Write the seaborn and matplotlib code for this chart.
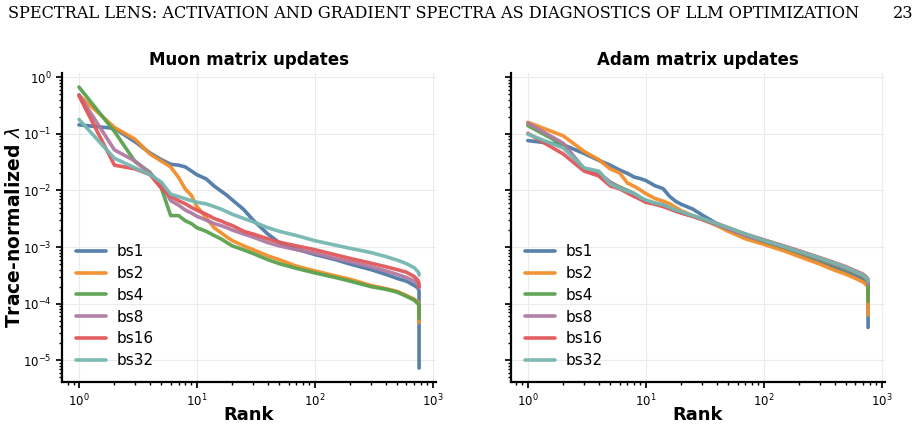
import pandas as pd
import seaborn as sns
import matplotlib.pyplot as plt

ranks = [1, 2, 3, 4, 5, 6, 7, 8, 9, 10, 12, 14, 16, 18, 20, 25, 30, 40, 50, 70,
         100, 150, 200, 300, 400, 500, 600, 700, 750, 767, 768]

labels = ["bs1", "bs2", "bs4", "bs8", "bs16", "bs32"]
colors = ["#4e79a7", "#f28e2b", "#59a14f", "#b07aa1", "#e15759", "#76b7b2"]

# Muon matrix updates
muon_bs1 = [0.144, 0.125, 0.072, 0.046, 0.035, 0.029, 0.028, 0.026, 0.022, 0.019, 0.016, 0.012, 0.0098, 0.0082,
            0.0068, 0.0046, 0.003, 0.0017, 0.0012, 0.00092, 0.00074, 0.0006, 0.0005, 0.0004, 0.00033, 0.00028,
            0.00025, 0.00021, 0.00019, 0.000168, 7.3e-6]
muon_bs2 = [0.48, 0.13, 0.08, 0.044, 0.033, 0.026, 0.017, 0.0105, 0.0082, 0.0052, 0.0033, 0.0022, 0.0018, 0.0015,
            0.0013, 0.00105, 0.0009, 0.0007, 0.0006, 0.00046, 0.00038, 0.00031, 0.00027, 0.00021, 0.000185,
            0.000165, 0.00014, 0.00012, 0.000107, 0.0001, 4.6e-5]
muon_bs4 = [0.67, 0.11, 0.032, 0.021, 0.011, 0.0036, 0.0036, 0.0029, 0.0026, 0.0022, 0.0019, 0.0016, 0.0014, 0.0012,
            0.00105, 0.00089, 0.00077, 0.0006, 0.00051, 0.00042, 0.00035, 0.00029, 0.00025, 0.0002, 0.00018,
            0.00016, 0.000135, 0.000115, 0.0001, 9.5e-5, 5.5e-5]
muon_bs8 = [0.49, 0.052, 0.033, 0.02, 0.013, 0.0066, 0.0055, 0.0045, 0.004, 0.0035, 0.003, 0.0026, 0.0024, 0.0022,
            0.002, 0.0017, 0.0015, 0.0012, 0.00105, 0.0009, 0.00078, 0.00063, 0.00055, 0.00045, 0.00038, 0.00033,
            0.00029, 0.00025, 0.00022, 0.0002, 0.00019]
muon_bs16 = [0.47, 0.028, 0.024, 0.019, 0.011, 0.0078, 0.0066, 0.0058, 0.005, 0.0045, 0.0038, 0.0032, 0.0029, 0.0026,
             0.0024, 0.0019, 0.0017, 0.0014, 0.00122, 0.00105, 0.0009, 0.00073, 0.00063, 0.00052, 0.00045, 0.0004,
             0.00036, 0.0003, 0.00026, 0.00023, 0.0002]
muon_bs32 = [0.18, 0.037, 0.025, 0.019, 0.014, 0.0086, 0.0078, 0.0071, 0.0066, 0.0062, 0.0058, 0.0052, 0.0047, 0.0042,
             0.0038, 0.0032, 0.0028, 0.0022, 0.0019, 0.0016, 0.0013, 0.00108, 0.00095, 0.0008, 0.00068, 0.00059,
             0.00051, 0.00043, 0.00037, 0.00034, 0.00032]

# Adam matrix updates
adam_bs1 = [0.076, 0.064, 0.045, 0.034, 0.028, 0.023, 0.02, 0.0172, 0.0162, 0.015, 0.0121, 0.0108, 0.0078, 0.0064,
            0.0057, 0.0047, 0.0037, 0.0026, 0.0021, 0.0016, 0.00122, 0.00092, 0.00074, 0.00055, 0.00044, 0.00037,
            0.00031, 0.00027, 0.00024, 0.00022, 3.8e-5]
adam_bs2 = [0.16, 0.092, 0.049, 0.035, 0.024, 0.0205, 0.0135, 0.0118, 0.0102, 0.0088, 0.0072, 0.0065, 0.0058, 0.005,
            0.0044, 0.0036, 0.0031, 0.0024, 0.0019, 0.0014, 0.00112, 0.00085, 0.00068, 0.0005, 0.00039, 0.00033,
            0.00028, 0.00024, 0.00021, 0.0002, 6.3e-5]
adam_bs4 = [0.14, 0.064, 0.024, 0.0195, 0.014, 0.0115, 0.01, 0.0088, 0.0075, 0.0066, 0.0059, 0.0055, 0.0048, 0.0043,
            0.0041, 0.0035, 0.0031, 0.0025, 0.0021, 0.0016, 0.00127, 0.00098, 0.0008, 0.0006, 0.00048, 0.0004,
            0.00035, 0.0003, 0.00026, 0.00024, 1.1e-4]
adam_bs8 = [0.155, 0.068, 0.024, 0.0205, 0.014, 0.011, 0.0095, 0.0082, 0.007, 0.0063, 0.0059, 0.0055, 0.0048, 0.0044,
            0.004, 0.0035, 0.0031, 0.0025, 0.0021, 0.0016, 0.0013, 0.001, 0.00082, 0.00062, 0.0005, 0.00042,
            0.00036, 0.00031, 0.00027, 0.00025, 2.2e-4]
adam_bs16 = [0.102, 0.044, 0.022, 0.018, 0.012, 0.0107, 0.009, 0.0078, 0.007, 0.0062, 0.0057, 0.0052, 0.0047, 0.0043,
             0.004, 0.0035, 0.0031, 0.0026, 0.0022, 0.0017, 0.00135, 0.00104, 0.00086, 0.00065, 0.00053, 0.00045,
             0.00038, 0.00033, 0.00029, 0.00027, 2.6e-4]
adam_bs32 = [0.099, 0.056, 0.025, 0.022, 0.013, 0.011, 0.0097, 0.0088, 0.0075, 0.0068, 0.006, 0.0056, 0.005, 0.0045,
             0.0042, 0.0036, 0.0032, 0.0026, 0.0022, 0.0017, 0.00133, 0.00102, 0.00084, 0.00064, 0.00052, 0.00044,
             0.00037, 0.00032, 0.00028, 0.00026, 2.5e-4]

muon = [muon_bs1, muon_bs2, muon_bs4, muon_bs8, muon_bs16, muon_bs32]
adam = [adam_bs1, adam_bs2, adam_bs4, adam_bs8, adam_bs16, adam_bs32]

sns.set_theme(style="whitegrid")
plt.rcParams.update({
    "font.family": ["DejaVu Sans"],
    "text.color": "black",
    "axes.labelcolor": "black",
    "axes.edgecolor": "black",
    "axes.linewidth": 1.6,
    "grid.color": "#ebebeb",
    "grid.linewidth": 0.8,
    "xtick.bottom": True,
    "ytick.left": True,
    "xtick.color": "black",
    "ytick.color": "black",
    "xtick.major.size": 4,
    "ytick.major.size": 4,
    "xtick.minor.size": 2.5,
    "ytick.minor.size": 2.5,
    "xtick.labelsize": 8.5,
    "ytick.labelsize": 8.5,
})

fig = plt.figure(figsize=(9.22, 4.26), dpi=100)
ax1 = fig.add_axes([0.0672, 0.103, 0.4058, 0.7256])
ax2 = fig.add_axes([0.554, 0.103, 0.406, 0.7256], sharey=ax1)

for ax, series, title in [(ax1, muon, "Muon matrix updates"), (ax2, adam, "Adam matrix updates")]:
    for vals, lab, col in zip(series, labels, colors):
        df = pd.DataFrame({"Rank": ranks, "value": vals})
        sns.lineplot(data=df, x="Rank", y="value", ax=ax, color=col, label=lab, lw=2.6, alpha=0.95)
    ax.set_xscale("log")
    ax.set_yscale("log")
    ax.set_title(title, fontsize=12, fontweight="bold", pad=6)
    ax.set_xlabel("Rank", fontsize=13, fontweight="bold", labelpad=-2)
    ax.grid(True, which="major")
    ax.grid(False, which="minor")
    sns.despine(ax=ax)
    ax.legend(loc="lower left", frameon=False, fontsize=11, handlelength=2.0,
              handletextpad=0.7, labelspacing=0.45)

ax1.set_ylabel("Trace-normalized $\\lambda$", fontsize=13.5, fontweight="bold", labelpad=-1)
ax2.set_ylabel("")
ax2.tick_params(labelleft=False)

# page header
fig.text(8 / 922, 1 - 13 / 426, "SPECTRAL LENS: ACTIVATION AND GRADIENT SPECTRA AS DIAGNOSTICS OF LLM OPTIMIZATION",
         family="DejaVu Serif", fontsize=11.6, ha="left", va="center")
fig.text(913 / 922, 1 - 13 / 426, "23", family="DejaVu Serif", fontsize=11.6, ha="right", va="center")

fig.savefig("out.png", dpi=100)
plt.close(fig)
